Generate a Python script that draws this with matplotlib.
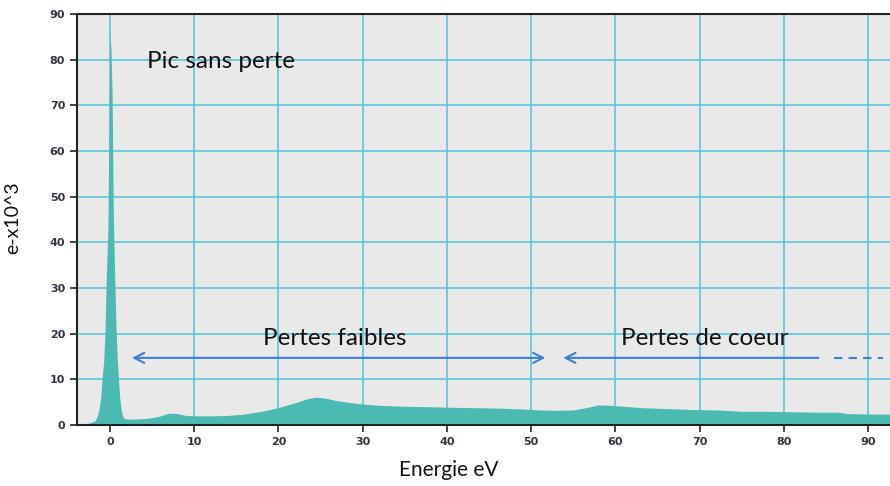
import matplotlib
matplotlib.use("Agg")
import matplotlib.pyplot as plt

# Spectrum (energy in eV, counts in e- x10^3)
energy = [-3.9, -3.0, -2.5, -2.0, -1.75, -1.5, -1.3, -1.1, -0.95, -0.75, -0.6, -0.45, -0.25, -0.12,
          0.0, 0.12, 0.25, 0.4, 0.55, 0.7, 0.85, 1.0, 1.15, 1.35, 1.6, 2.0, 3, 4, 5, 6,
          6.8, 7.5, 8.2, 9, 10, 12, 14, 16, 18, 20, 22, 23.5, 24.5, 25.5, 27, 28.5,
          30, 32, 35, 38, 40, 43, 46, 49, 51, 53, 55, 56.5, 58, 59.5, 61, 63, 66,
          69, 72, 75, 78, 81, 84, 86.5, 87.5, 90, 92.7]
counts = [0.2, 0.3, 0.4, 0.7, 1.0, 2.0, 3.5, 6, 10, 14, 20, 32, 43, 67,
          86, 82, 72, 45, 33, 22, 15, 10, 6, 3, 1.5, 1.3, 1.3, 1.4, 1.6, 2.0,
          2.5, 2.6, 2.4, 2.1, 2.0, 2.0, 2.1, 2.4, 3.0, 3.8, 4.9, 5.8, 6.1, 5.9, 5.3, 4.9,
          4.6, 4.3, 4.1, 4.0, 3.9, 3.8, 3.7, 3.5, 3.3, 3.2, 3.3, 3.8, 4.4, 4.3, 4.1, 3.8, 3.6,
          3.4, 3.3, 3.0, 3.0, 2.9, 2.8, 2.8, 2.5, 2.4, 2.4]

x_ticks = [0, 10, 20, 30, 40, 50, 60, 70, 80, 90]
y_ticks = [0, 10, 20, 30, 40, 50, 60, 70, 80, 90]

annot_texts = ["Pic sans perte", "Pertes faibles", "Pertes de coeur"]
annot_x = [4.4, 18.2, 60.7]
annot_y = [79.6, 19.0, 19.0]

arrow_y = 14.7
arrow1 = (2.6, 51.7)
arrow2 = (53.8, 84.1)
dashed = (86.0, 91.8)

fig = plt.figure(figsize=(8.9, 4.86), dpi=100)
ax = fig.add_axes([77/890, 61/486, 813/890, 411/486])
ax.set_facecolor("#e9e9e9")

ax.fill_between(energy, counts, 0, color="#4bbab3", linewidth=0, zorder=2)

ax.set_xlim(-3.92, 92.6)
ax.set_ylim(0, 90)
ax.set_xticks(x_ticks)
ax.set_yticks(y_ticks)
ax.grid(True, color="#5cc6dc", linewidth=1.2, zorder=1)
ax.set_axisbelow(True)

for s in ["left", "bottom", "top"]:
    ax.spines[s].set_color("#222222")
    ax.spines[s].set_linewidth(1.5)
ax.spines["right"].set_visible(False)
ax.tick_params(axis="both", direction="out", length=5, width=1.2, color="#222222",
               labelsize=8, labelcolor="#333344")
for lab in ax.get_xticklabels() + ax.get_yticklabels():
    lab.set_fontweight("bold")
    lab.set_family("DejaVu Sans")

ax.set_xlabel("Energie eV", fontsize=15, family="Lato", color="#111111")
ax.xaxis.set_label_coords((449 - 77) / 813, -0.085)
ax.set_ylabel("e-x10^3", fontsize=14, family="Lato", color="#111111")
ax.yaxis.set_label_coords(-(77 - 21) / 813, 0.504)

for t, x, y in zip(annot_texts, annot_x, annot_y):
    ax.text(x, y, t, fontsize=17.5, family="Lato", color="#111111", va="center", ha="left", zorder=5)

acol = "#3a80d6"
ax.annotate("", xy=(arrow1[0], arrow_y), xytext=(arrow1[1], arrow_y),
            arrowprops=dict(arrowstyle="<->", color=acol, lw=1.5, mutation_scale=18,
                            shrinkA=0, shrinkB=0), zorder=5)
ax.annotate("", xy=(arrow2[0], arrow_y), xytext=(arrow2[1], arrow_y),
            arrowprops=dict(arrowstyle="->", color=acol, lw=1.5, mutation_scale=18,
                            shrinkA=0, shrinkB=0), zorder=5)
ax.plot(list(dashed), [arrow_y, arrow_y], color=acol, lw=1.5, linestyle=(0, (4, 3)), zorder=5)

fig.savefig("out.png", dpi=100)
